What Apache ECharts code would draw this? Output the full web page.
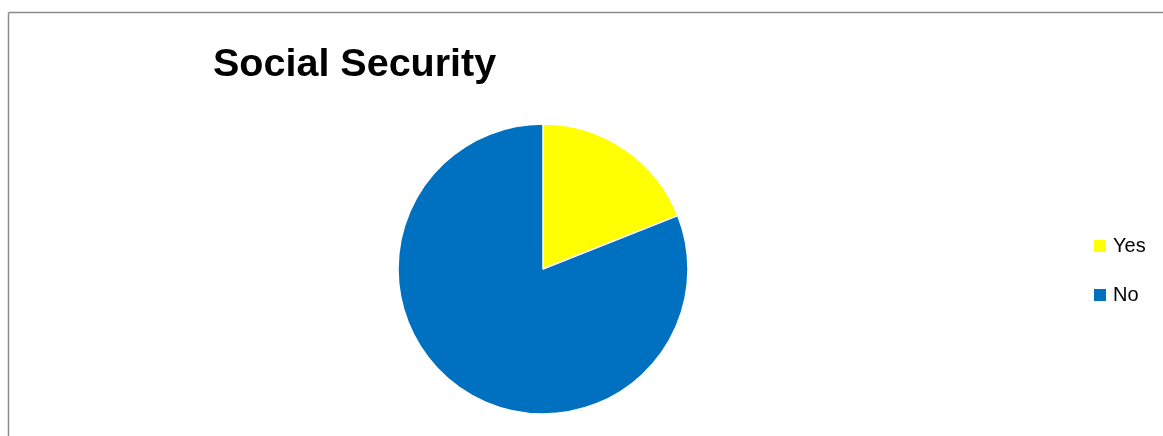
<!DOCTYPE html>
<html>
<head>
<meta charset="utf-8">
<script src="https://cdn.jsdelivr.net/npm/echarts@6/dist/echarts.min.js"></script>
<style>
html,body{margin:0;padding:0;background:#fff;}
#chart{width:1163px;height:436px;}
</style>
</head>
<body>
<div id="chart"></div>
<script>
const titleText = 'Social Security';
const categories = ['Yes', 'No'];
const values = [19, 81];
const colors = ['#FFFF00', '#0070C0'];

const chart = echarts.init(document.getElementById('chart'), null, {renderer: 'canvas'});
chart.setOption({
  backgroundColor: '#ffffff',
  animation: false,
  title: {
    text: titleText,
    left: 213,
    top: 45,
    padding: 0,
    textStyle: {fontFamily: 'Liberation Sans', fontWeight: 'bold', fontSize: 39.5, color: '#000'}
  },
  legend: {
    orient: 'vertical',
    left: 1092,
    top: 236,
    padding: 0,
    icon: 'rect',
    itemWidth: 14,
    itemHeight: 14,
    itemGap: 29,
    textStyle: {fontFamily: 'Liberation Sans', fontSize: 20, color: '#000', lineHeight: 20, padding: [0,0,0,1]},
    data: categories
  },
  graphic: [
    {type: 'line', shape: {x1: 8.5, y1: 12.5, x2: 1163, y2: 12.5}, style: {stroke: '#8a8a8a', lineWidth: 1.5}},
    {type: 'line', shape: {x1: 8.5, y1: 12.5, x2: 8.5, y2: 436}, style: {stroke: '#8a8a8a', lineWidth: 1.5}}
  ],
  series: [{
    type: 'pie',
    center: [543, 269],
    radius: 145,
    startAngle: 90,
    clockwise: true,
    label: {show: false},
    labelLine: {show: false},
    emphasis: {disabled: true},
    itemStyle: {borderColor: '#ffffff', borderWidth: 1.5},
    data: categories.map((c, i) => ({name: c, value: values[i], itemStyle: {color: colors[i]}}))
  }]
});
</script>
</body>
</html>
